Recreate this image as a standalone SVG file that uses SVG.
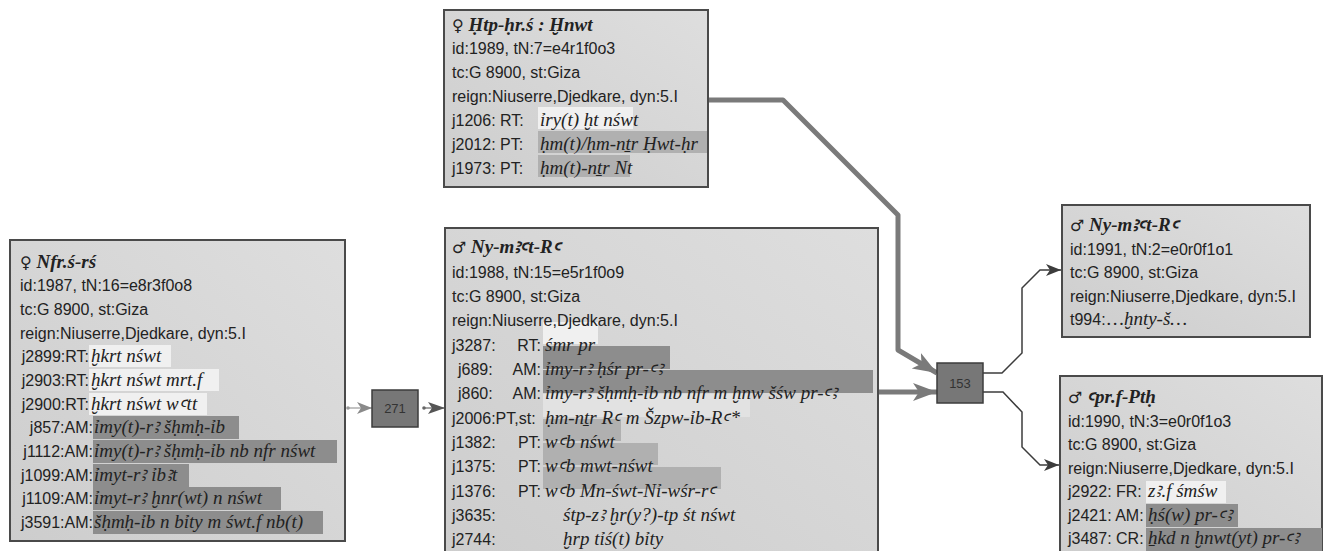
<svg xmlns="http://www.w3.org/2000/svg" width="1328" height="551" viewBox="0 0 1328 551">
<style>
.box{fill:url(#g);stroke:#4a4a4a;stroke-width:2}
.t{font-family:"Liberation Sans",Arial,sans-serif;font-size:16px;fill:#222}
.i{font-family:"Liberation Serif","DejaVu Serif",serif;font-style:italic;font-size:19px;fill:#222}
.h{font-family:"Liberation Serif","DejaVu Serif",serif;font-style:italic;font-weight:bold;font-size:19px;fill:#222}
.sym{font-family:"DejaVu Sans",sans-serif;font-style:normal;font-weight:normal;font-size:16px}
.dk{fill:#8d8d8d}
.md{fill:#b0b0b0}
.wh{fill:#f4f4f4;opacity:.85}
.lt{fill:#e2e2e2}
.jn{fill:#777;stroke:#3c3c3c;stroke-width:1.5}
.jt{font-family:"Liberation Sans",Arial,sans-serif;font-size:13px;fill:#333;text-anchor:middle}
.thick{fill:none;stroke:#7a7a7a;stroke-width:5;stroke-linejoin:round}
.thin{fill:none;stroke:#3c3c3c;stroke-width:1.5}
.lg{fill:none;stroke:#999;stroke-width:1.2}
.mg{fill:none;stroke:#666;stroke-width:1.2}
</style>
<defs>
<linearGradient id="g" x1="0" y1="1" x2="1" y2="0">
<stop offset="0" stop-color="#cdcdcd"/>
<stop offset="1" stop-color="#dedede"/>
</linearGradient>
<marker id="aB" markerUnits="userSpaceOnUse" markerWidth="26" markerHeight="20" refX="24" refY="10" orient="auto">
<path d="M0,1 L24,10 L0,19 L6,10 Z" fill="#7a7a7a"/>
</marker>
<marker id="aT" markerUnits="userSpaceOnUse" markerWidth="16" markerHeight="12" refX="15" refY="6" orient="auto">
<path d="M0,0 L15,6 L0,12 L4,6 Z" fill="#3c3c3c"/>
</marker>
<marker id="aL" markerUnits="userSpaceOnUse" markerWidth="16" markerHeight="12" refX="15" refY="6" orient="auto">
<path d="M0,0 L15,6 L0,12 L4,6 Z" fill="#8a8a8a"/>
</marker>
<marker id="aM" markerUnits="userSpaceOnUse" markerWidth="18" markerHeight="12" refX="17" refY="6" orient="auto">
<path d="M0,0 L17,6 L0,12 L4,6 Z" fill="#555"/>
</marker>
</defs>
<rect width="1328" height="551" fill="#fff"/>

<g id="connectors">
<path class="lg" d="M348,408 L372,408" marker-end="url(#aL)"/>
<circle cx="348" cy="408" r="1.8" fill="#999"/>
<path class="mg" d="M424,408 L445,408" marker-end="url(#aM)"/>
<circle cx="424" cy="408" r="1.8" fill="#666"/>
<path class="thick" d="M708,100 L783,100 L898,215 L898,350 L937,373" marker-end="url(#aB)"/>
<path class="thick" d="M878,392 L937,392" marker-end="url(#aB)"/>
<path class="thin" d="M983,373 L1002,373 L1022,353 L1022,288 L1040,270 L1061,270" marker-end="url(#aT)"/>
<path class="thin" d="M983,392 L1003,392 L1022,412 L1022,447 L1040,465 L1059,465" marker-end="url(#aT)"/>
</g>

<g id="n1987">
<rect class="box" x="10" y="240" width="335" height="301"/>
<rect class="wh" x="89" y="345" width="82" height="22"/>
<rect class="wh" x="89" y="369" width="130" height="22"/>
<rect class="wh" x="89" y="393" width="118" height="22"/>
<rect class="dk" x="93" y="416" width="146" height="23"/>
<rect class="dk" x="93" y="440" width="244" height="23"/>
<rect class="dk" x="93" y="464" width="96" height="23"/>
<rect class="dk" x="93" y="487" width="188" height="23"/>
<rect class="dk" x="93" y="511" width="230" height="23"/>
<text class="h" x="20" y="268"><tspan class="sym">♀</tspan> Nfr.ś-rś</text>
<text class="t" x="20" y="291">id:1987, tN:16=e8r3f0o8</text>
<text class="t" x="20" y="315">tc:G 8900, st:Giza</text>
<text class="t" x="20" y="339">reign:Niuserre,Djedkare, dyn:5.I</text>
<text class="t" x="89" y="362" text-anchor="end">j2899:RT:</text><text class="i" x="91" y="362">ḫkrt nśwt</text>
<text class="t" x="89" y="386" text-anchor="end">j2903:RT:</text><text class="i" x="91" y="386">ḫkrt nśwt mrt.f</text>
<text class="t" x="89" y="410" text-anchor="end">j2900:RT:</text><text class="i" x="91" y="410">ḫkrt nśwt wꜥtt</text>
<text class="t" x="93" y="433" text-anchor="end">j857:AM:</text><text class="i" x="94" y="433">ỉmy(t)-rꜣ šḥmḥ-ỉb</text>
<text class="t" x="93" y="457" text-anchor="end">j1112:AM:</text><text class="i" x="94" y="457">ỉmy(t)-rꜣ šḥmḥ-ỉb nb nfr nśwt</text>
<text class="t" x="93" y="481" text-anchor="end">j1099:AM:</text><text class="i" x="94" y="481">ỉmyt-rꜣ ỉbꜣt</text>
<text class="t" x="93" y="504" text-anchor="end">j1109:AM:</text><text class="i" x="94" y="504">ỉmyt-rꜣ ḫnr(wt) n nśwt</text>
<text class="t" x="93" y="528" text-anchor="end">j3591:AM:</text><text class="i" x="94" y="528">šḥmḥ-ỉb n bỉty m śwt.f nb(t)</text>
</g>

<g id="n1989">
<rect class="box" x="444" y="10" width="264" height="177"/>
<rect class="wh" x="538" y="107" width="95" height="22"/>
<rect class="md" x="538" y="131" width="169" height="22"/>
<rect class="md" x="538" y="155" width="92" height="22"/>
<text class="h" x="452" y="31"><tspan class="sym">♀</tspan> Ḥtp-ḥr.ś : Ḫnwt</text>
<text class="t" x="452" y="54">id:1989, tN:7=e4r1f0o3</text>
<text class="t" x="452" y="78">tc:G 8900, st:Giza</text>
<text class="t" x="452" y="102">reign:Niuserre,Djedkare, dyn:5.I</text>
<text class="t" x="452" y="126">j1206: RT:</text><text class="i" x="540" y="126">ỉry(t) ḫt nśwt</text>
<text class="t" x="452" y="150">j2012: PT:</text><text class="i" x="540" y="150">ḥm(t)/ḥm-nṯr Ḥwt-ḥr</text>
<text class="t" x="452" y="174">j1973: PT:</text><text class="i" x="540" y="174">ḥm(t)-nṯr Nt</text>
</g>

<g id="n1988">
<rect class="box" x="445" y="228" width="433" height="330"/>
<rect class="wh" x="543" y="322" width="55" height="22"/>
<rect class="dk" x="543" y="346" width="127" height="23"/>
<rect class="dk" x="543" y="370" width="330" height="23"/>
<rect class="lt" x="543" y="394" width="207" height="23"/>
<rect class="md" x="543" y="419" width="78" height="22"/>
<rect class="md" x="543" y="443" width="115" height="22"/>
<rect class="md" x="543" y="467" width="178" height="22"/>
<text class="h" x="452" y="253"><tspan class="sym">♂</tspan> Ny-mꜣꜥt-Rꜥ</text>
<text class="t" x="452" y="278">id:1988, tN:15=e5r1f0o9</text>
<text class="t" x="452" y="302">tc:G 8900, st:Giza</text>
<text class="t" x="452" y="326">reign:Niuserre,Djedkare, dyn:5.I</text>
<text class="t" x="452" y="351">j3287:</text><text class="t" x="541" y="351" text-anchor="end">RT:</text><text class="i" x="545" y="351">śmr pr</text>
<text class="t" x="458" y="375">j689:</text><text class="t" x="541" y="375" text-anchor="end">AM:</text><text class="i" x="545" y="375">ỉmy-rꜣ ḥśr pr-ꜥꜣ</text>
<text class="t" x="458" y="399">j860:</text><text class="t" x="541" y="399" text-anchor="end">AM:</text><text class="i" x="545" y="399">ỉmy-rꜣ šḥmḥ-ỉb nb nfr m ḫnw šśw pr-ꜥꜣ</text>
<text class="t" x="452" y="424">j2006:PT,st:</text><text class="i" x="545" y="424">ḥm-nṯr Rꜥ m Šzpw-ỉb-Rꜥ*</text>
<text class="t" x="452" y="448">j1382:</text><text class="t" x="541" y="448" text-anchor="end">PT:</text><text class="i" x="545" y="448">wꜥb nśwt</text>
<text class="t" x="452" y="472">j1375:</text><text class="t" x="541" y="472" text-anchor="end">PT:</text><text class="i" x="545" y="472">wꜥb mwt-nśwt</text>
<text class="t" x="452" y="497">j1376:</text><text class="t" x="541" y="497" text-anchor="end">PT:</text><text class="i" x="545" y="497">wꜥb Mn-śwt-Nỉ-wśr-rꜥ</text>
<text class="t" x="452" y="521">j3635:</text><text class="i" x="563" y="521">śtp-zꜣ ḫr(y?)-tp śt nśwt</text>
<text class="t" x="452" y="545">j2744:</text><text class="i" x="563" y="545">ḫrp tỉś(t) bỉty</text>
</g>

<g id="n1991">
<rect class="box" x="1062" y="205" width="248" height="132"/>
<text class="h" x="1070" y="231"><tspan class="sym">♂</tspan> Ny-mꜣꜥt-Rꜥ</text>
<text class="t" x="1070" y="255">id:1991, tN:2=e0r0f1o1</text>
<text class="t" x="1070" y="278">tc:G 8900, st:Giza</text>
<text class="t" x="1070" y="302">reign:Niuserre,Djedkare, dyn:5.I</text>
<text class="t" x="1070" y="325">t994:</text><text class="i" x="1107" y="325">…ḫnty-š…</text>
</g>

<g id="n1990">
<rect class="box" x="1060" y="376" width="262" height="182"/>
<rect class="wh" x="1146" y="481" width="80" height="22"/>
<rect class="dk" x="1146" y="504" width="92" height="23"/>
<rect class="dk" x="1146" y="528" width="176" height="23"/>
<text class="h" x="1068" y="403"><tspan class="sym">♂</tspan> ꜥpr.f-Ptḥ</text>
<text class="t" x="1068" y="427">id:1990, tN:3=e0r0f1o3</text>
<text class="t" x="1068" y="450">tc:G 8900, st:Giza</text>
<text class="t" x="1068" y="474">reign:Niuserre,Djedkare, dyn:5.I</text>
<text class="t" x="1068" y="497">j2922: FR:</text><text class="i" x="1148" y="497">zꜣ.f śmśw</text>
<text class="t" x="1068" y="521">j2421: AM:</text><text class="i" x="1148" y="521">ḥś(w) pr-ꜥꜣ</text>
<text class="t" x="1068" y="544">j3487: CR:</text><text class="i" x="1148" y="544">ẖkd n ḫnwt(yt) pr-ꜥꜣ</text>
</g>

<g id="j271">
<rect class="jn" x="372" y="390" width="46" height="37"/>
<text class="jt" x="395" y="413">271</text>
</g>
<g id="j153">
<rect class="jn" x="937" y="363" width="46" height="40"/>
<text class="jt" x="960" y="388">153</text>
</g>
</svg>
